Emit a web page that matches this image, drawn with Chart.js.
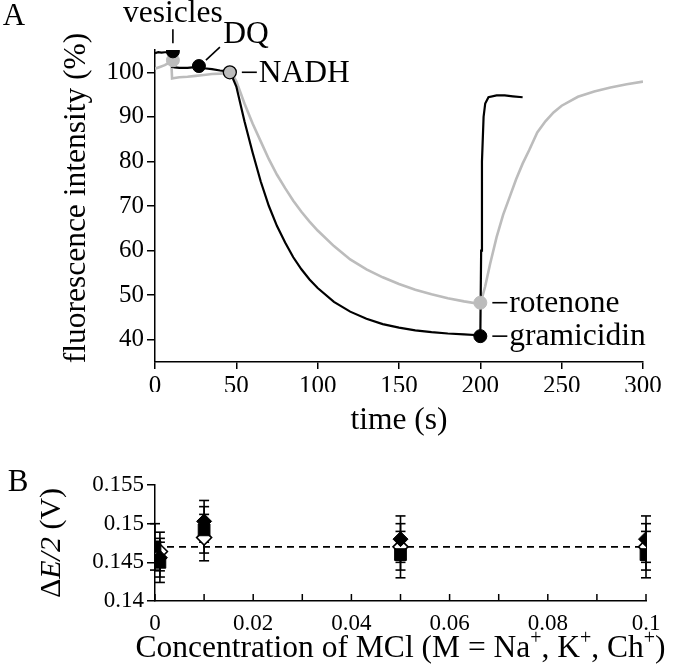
<!DOCTYPE html>
<html>
<head>
<meta charset="utf-8">
<script src="https://cdn.jsdelivr.net/npm/chart.js@4.4.0/dist/chart.umd.min.js"></script>
<style>
html, body { margin: 0; padding: 0; background: #fff; }
#wrap { position: relative; width: 680px; height: 669px; }
canvas { position: absolute; left: 0; top: 0; }
</style>
</head>
<body>
<div id="wrap">
<canvas id="chartA" width="680" height="669"></canvas>
<canvas id="chartB" width="680" height="669"></canvas>
</div>
<script>
"use strict";

// ---- panel A : fluorescence traces ----
const blackTime = [0, 2, 4, 6, 8, 10, 10.5, 12, 15, 20, 26, 30, 35, 40, 45, 47, 48, 50, 55, 60, 65, 70, 75, 80, 85, 90, 95, 100, 110, 120, 130, 140, 150, 160, 170, 180, 190, 199, 200, 200.5, 201, 202, 203, 205, 210, 215, 220, 226];
const blackValue = [104.3, 104.5, 104.4, 104.5, 104.5, 104.6, 101.2, 101.1, 101.0, 101.0, 101.2, 100.9, 100.7, 100.4, 100.2, 100, 98.5, 96.8, 89, 82, 75.5, 70, 65.5, 61.8, 58.5, 55.8, 53.5, 51.6, 48.5, 46.3, 44.7, 43.5, 42.7, 42.1, 41.7, 41.4, 41.2, 41.0, 41.0, 60, 80, 90, 93, 94.4, 94.8, 94.8, 94.6, 94.4];

const greyTime = [0, 3, 6, 9, 10, 10.5, 12, 15, 20, 25, 30, 35, 40, 45, 47, 50, 55, 60, 65, 70, 75, 80, 85, 90, 95, 100, 110, 120, 130, 140, 150, 160, 170, 180, 190, 200, 203, 206, 210, 214, 218, 222, 226, 230, 235, 240, 245, 250, 260, 270, 280, 290, 300];
const greyValue = [100.8, 101.2, 101.6, 102.2, 102.6, 98.6, 98.7, 98.9, 99.0, 99.2, 99.4, 99.6, 99.7, 99.9, 100, 98, 93, 88.5, 84.5, 80.5, 77, 74, 71.2, 68.7, 66.5, 64.5, 61, 58, 55.8, 54, 52.5, 51.2, 50.2, 49.3, 48.6, 48, 52, 57, 63, 68, 72, 76, 79.5, 82.5, 86.5, 89, 91, 92.5, 94.5, 95.7, 96.6, 97.3, 97.9];

// additions
const eventLabels = ['vesicles', 'DQ', 'NADH', 'rotenone', 'gramicidin'];
const eventTime = [11, 27, 46, 200, 200];
const eventValue = [104.7, 101.4, 100, 48.3, 40.8];
const greyVesicleTime = 11;
const greyVesicleValue = 102.7;

const timeTicks = [0, 50, 100, 150, 200, 250, 300];
const intensityTicks = [40, 50, 60, 70, 80, 90, 100];

// ---- panel B : half-wave potential vs salt ----
const squareConc = [0, 0.001, 0.01, 0.05, 0.1];
const squareE = [0.147, 0.145, 0.1492, 0.146, 0.146];
const squareErr = [0.003, 0.0026, 0.003, 0.003, 0.003];

const diamondConc = [0.001, 0.01, 0.05, 0.1];
const diamondE = [0.1456, 0.1503, 0.148, 0.148];
const diamondErr = [0.0025, 0.0027, 0.003, 0.003];

const openConc = [0.001, 0.01, 0.05, 0.1];
const openE = [0.1464, 0.1482, 0.147, 0.147];
const openErr = [0.0025, 0.003, 0.003, 0.003];

const meanE = 0.147;

const concTicks = [0, 0.02, 0.04, 0.06, 0.08, 0.1];
const concTickLabels = ['0', '0.02', '0.04', '0.06', '0.08', '0.1'];
const concMinorTicks = [0, 0.01, 0.02, 0.03, 0.04, 0.05, 0.06, 0.07, 0.08, 0.09, 0.1];
const potentialTicks = [0.14, 0.145, 0.15, 0.155];
const potentialTickLabels = ['0.14', '0.145', '0.15', '0.155'];

const serif = "'Liberation Serif', 'Times New Roman', serif";
const GREY = '#bcbcbc';

Chart.defaults.font.family = serif;
Chart.defaults.color = '#000';

function pts(xs, ys) {
    return xs.map((x, i) => ({ x: x, y: ys[i] }));
}

function fontOf(r, size) {
    const s = r.sup ? Math.round(size * 0.62) : size;
    return (r.italic ? 'italic ' : '') + s + 'px ' + serif;
}

// draws text runs centred on (cx, cy)
function drawRuns(ctx, runs, cx, cy, size) {
    let total = 0;
    runs.forEach(r => { ctx.font = fontOf(r, size); r.w = ctx.measureText(r.t).width; total += r.w; });
    let x = cx - total / 2;
    ctx.textAlign = 'left';
    ctx.textBaseline = 'middle';
    runs.forEach(r => {
        ctx.font = fontOf(r, size);
        ctx.fillText(r.t, x, cy + (r.sup ? -size * 0.32 : 0));
        x += r.w;
    });
}

function line(ctx, x1, y1, x2, y2) {
    ctx.beginPath();
    ctx.moveTo(x1, y1);
    ctx.lineTo(x2, y2);
    ctx.stroke();
}

const textA = {
    id: 'textA',
    afterDraw(chart) {
        const ctx = chart.ctx;
        const xs = chart.scales.x, ys = chart.scales.y;
        const area = chart.chartArea;
        ctx.save();
        ctx.fillStyle = '#000';
        ctx.strokeStyle = '#000';
        ctx.lineWidth = 1.6;

        drawRuns(ctx, [{ t: 'A' }], 14, 17, 31);
        drawRuns(ctx, [{ t: 'time (s)' }], (area.left + area.right) / 2, 421, 31.5);

        ctx.save();
        ctx.translate(77, 198);
        ctx.rotate(-Math.PI / 2);
        drawRuns(ctx, [{ t: 'fluorescence intensity (%)' }], 0, 0, 31.5);
        ctx.restore();

        const px = eventTime.map(t => xs.getPixelForValue(t));
        const py = eventValue.map(v => ys.getPixelForValue(v));

        // vesicles
        line(ctx, px[0], py[0] - 22, px[0], py[0] - 8);
        drawRuns(ctx, [{ t: eventLabels[0] }], px[0], py[0] - 38, 31.5);
        // DQ
        line(ctx, px[1] + 7, py[1] - 6, px[1] + 21, py[1] - 19);
        drawRuns(ctx, [{ t: eventLabels[1] }], px[1] + 47, py[1] - 31, 31.5);
        // NADH, rotenone, gramicidin
        [2, 3, 4].forEach(i => {
            line(ctx, px[i] + 12, py[i], px[i] + 27, py[i]);
            ctx.font = '31.5px ' + serif;
            ctx.textAlign = 'left';
            ctx.textBaseline = 'middle';
            ctx.fillText(eventLabels[i], px[i] + 29, py[i] + 1);
        });
        ctx.restore();
    }
};

const ctxA = document.getElementById('chartA').getContext('2d');
const chartA = new Chart(ctxA, {
    type: 'scatter',
    data: {
        datasets: [
            {
                label: 'black additions',
                data: [0, 1, 4].map(i => ({ x: eventTime[i], y: eventValue[i] })),
                pointRadius: 6.5, backgroundColor: '#000', borderColor: '#000', borderWidth: 1
            },
            {
                label: 'NADH',
                data: [{ x: eventTime[2], y: eventValue[2] }],
                pointRadius: 6.5, backgroundColor: GREY, borderColor: '#000', borderWidth: 1.3
            },
            {
                label: 'grey additions',
                data: [{ x: greyVesicleTime, y: greyVesicleValue }, { x: eventTime[3], y: eventValue[3] }],
                pointRadius: 6.5, backgroundColor: GREY, borderColor: GREY, borderWidth: 1
            },
            {
                label: 'black trace',
                data: pts(blackTime, blackValue),
                showLine: true, borderColor: '#000', borderWidth: 2.2, pointRadius: 0, tension: 0
            },
            {
                label: 'grey trace',
                data: pts(greyTime, greyValue),
                showLine: true, borderColor: GREY, borderWidth: 2.6, pointRadius: 0, tension: 0
            }
        ]
    },
    options: {
        responsive: false,
        animation: false,
        devicePixelRatio: 1,
        layout: { padding: { left: 0, top: 50, right: 37, bottom: 277 } },
        plugins: { legend: { display: false }, tooltip: { enabled: false } },
        scales: {
            x: {
                type: 'linear', min: 0, max: 300,
                afterBuildTicks: s => { s.ticks = timeTicks.map(v => ({ value: v })); },
                afterFit: s => { s.height = 30; },
                grid: { drawOnChartArea: false, tickLength: 7, color: '#000', lineWidth: 1.5 },
                border: { color: '#000', width: 1.5 },
                ticks: { font: { size: 25 }, padding: 2, maxRotation: 0, autoSkip: false }
            },
            y: {
                type: 'linear', min: 35, max: 105,
                afterBuildTicks: s => { s.ticks = intensityTicks.map(v => ({ value: v })); },
                afterFit: s => { s.width = 155; },
                grid: { drawOnChartArea: false, tickLength: 8, color: '#000', lineWidth: 1.5 },
                border: { color: '#000', width: 1.5 },
                ticks: { font: { size: 25 }, padding: 3, autoSkip: false }
            }
        }
    },
    plugins: [textA]
});

// ---- panel B ----
const errorBars = {
    id: 'errorBars',
    beforeDatasetsDraw(chart) {
        const ctx = chart.ctx;
        const xs = chart.scales.x, ys = chart.scales.y;
        ctx.save();
        ctx.strokeStyle = '#000';
        ctx.lineWidth = 1.6;
        chart.data.datasets.forEach(ds => {
            if (!ds.errors) return;
            ds.data.forEach((p, i) => {
                const x = xs.getPixelForValue(p.x);
                const top = ys.getPixelForValue(p.y + ds.errors[i]);
                const bot = ys.getPixelForValue(p.y - ds.errors[i]);
                line(ctx, x, top, x, bot);
                line(ctx, x - 5, top, x + 5, top);
                line(ctx, x - 5, bot, x + 5, bot);
            });
        });
        ctx.restore();
    }
};

const textB = {
    id: 'textB',
    afterDraw(chart) {
        const ctx = chart.ctx;
        const xs = chart.scales.x;
        const area = chart.chartArea;
        ctx.save();
        ctx.fillStyle = '#000';
        ctx.strokeStyle = '#000';
        ctx.lineWidth = 1.5;
        // inward minor ticks on the x axis
        concMinorTicks.forEach(v => {
            const x = xs.getPixelForValue(v);
            line(ctx, x, area.bottom, x, area.bottom - 7);
        });
        drawRuns(ctx, [{ t: 'B' }], 18, 483, 31);
        drawRuns(ctx, [
            { t: 'Concentration of MCl (M = Na' }, { t: '+', sup: true },
            { t: ', K' }, { t: '+', sup: true },
            { t: ', Ch' }, { t: '+', sup: true }, { t: ')' }
        ], (area.left + area.right) / 2, 649, 31.5);
        ctx.save();
        ctx.translate(52, (area.top + area.bottom) / 2);
        ctx.rotate(-Math.PI / 2);
        drawRuns(ctx, [{ t: 'Δ' }, { t: 'E/2', italic: true }, { t: ' (V)' }], 0, 0, 30);
        ctx.restore();
        ctx.restore();
    }
};

const ctxB = document.getElementById('chartB').getContext('2d');
const chartB = new Chart(ctxB, {
    type: 'scatter',
    data: {
        datasets: [
            {
                label: 'square',
                data: pts(squareConc, squareE), errors: squareErr,
                pointStyle: 'rect', pointRadius: 8.3, backgroundColor: '#000', borderColor: '#000', borderWidth: 1
            },
            {
                label: 'diamond',
                data: pts(diamondConc, diamondE), errors: diamondErr,
                pointStyle: 'rectRot', pointRadius: 7.5, backgroundColor: '#000', borderColor: '#000', borderWidth: 1
            },
            {
                label: 'open diamond',
                data: pts(openConc, openE), errors: openErr,
                pointStyle: 'rectRot', pointRadius: 7.5, backgroundColor: '#fff', borderColor: '#000', borderWidth: 1.6
            },
            {
                label: 'mean',
                data: [{ x: 0, y: meanE }, { x: 0.1, y: meanE }],
                showLine: true, borderColor: '#000', borderWidth: 1.6, borderDash: [7, 5], pointRadius: 0
            }
        ]
    },
    options: {
        responsive: false,
        animation: false,
        devicePixelRatio: 1,
        layout: { padding: { left: 0, top: 485, right: 34, bottom: 0 } },
        plugins: { legend: { display: false }, tooltip: { enabled: false } },
        scales: {
            x: {
                type: 'linear', min: 0, max: 0.1,
                afterBuildTicks: s => { s.ticks = concTicks.map(v => ({ value: v })); },
                afterFit: s => { s.height = 68; },
                grid: { drawOnChartArea: false, drawTicks: false },
                border: { color: '#000', width: 1.5 },
                ticks: {
                    font: { size: 23 }, padding: 9, maxRotation: 0, autoSkip: false,
                    callback: (v, i) => concTickLabels[i]
                }
            },
            y: {
                type: 'linear', min: 0.14, max: 0.155,
                afterBuildTicks: s => { s.ticks = potentialTicks.map(v => ({ value: v })); },
                afterFit: s => { s.width = 155; },
                grid: { drawOnChartArea: false, tickLength: 8, color: '#000', lineWidth: 1.5 },
                border: { color: '#000', width: 1.5 },
                ticks: {
                    font: { size: 23 }, padding: 3, autoSkip: false,
                    callback: (v, i) => potentialTickLabels[i]
                }
            }
        }
    },
    plugins: [errorBars, textB]
});
</script>
</body>
</html>
